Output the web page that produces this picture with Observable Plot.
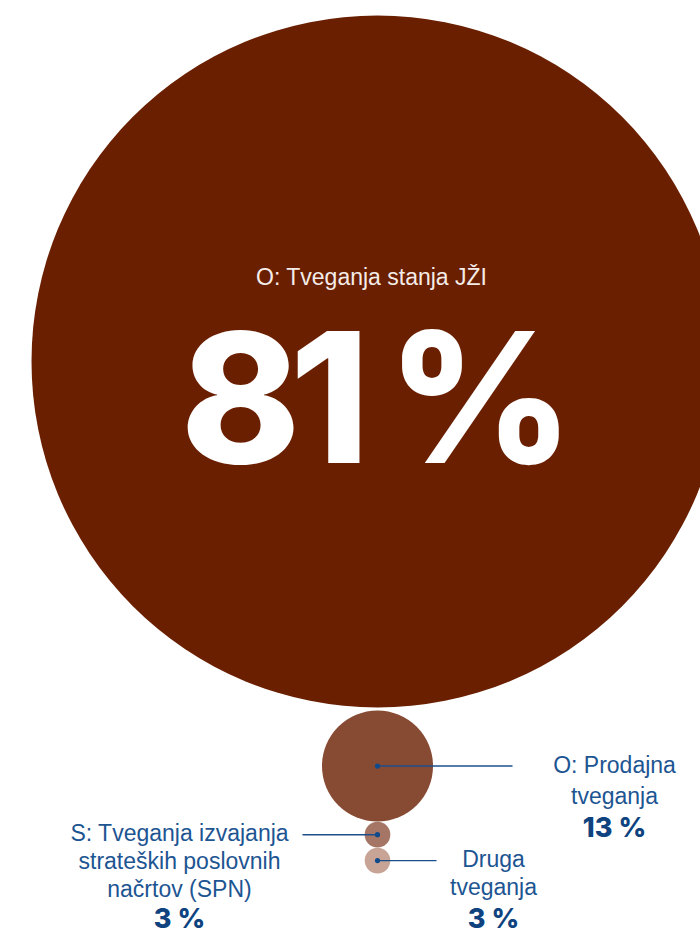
<!DOCTYPE html>
<html><head><meta charset="utf-8">
<script src="https://cdn.jsdelivr.net/npm/d3@7"></script>
<script src="https://cdn.jsdelivr.net/npm/@observablehq/plot@0.6"></script>
<style>html,body{margin:0;padding:0;background:#fff;overflow:hidden}</style>
</head><body><div id="chart"></div>
<script>
// ---- data ----
const categories = ["O: Tveganja stanja JŽI", "O: Prodajna tveganja", "S: Tveganja izvajanja strateških poslovnih načrtov (SPN)", "Druga tveganja"];
const labelLines = [["O: Tveganja stanja JŽI"], ["O: Prodajna", "tveganja"], ["S: Tveganja izvajanja", "strateških poslovnih", "načrtov (SPN)"], ["Druga", "tveganja"]];
const shares = [81, 13, 3, 3];
const shareLabels = ["81 %", "13 %", "3 %", "3 %"];

// ---- styles / layout ----
const fills = ["#6a1f00", "#874b34", "#a57665", "#c8a496"];
const W = 700, H = 935;
const centerX = 377, topY = 15, rMax = 346;
const gaps = [0, 3, 0.3, 0.3];
const layout = [
  {inside: true, textX: 371, titleDy: -77, pctDy: 101},
  {lineEnd: 512, textX: 614, step: 31, pctGap: 33.5},
  {lineEnd: 302, textX: 179, step: 28, pctGap: 31},
  {lineEnd: 436, textX: 493, step: 27.5, pctGap: 33.5}
];
const rDomain = [0, 81], rRange = [0, rMax];
const rScale = d3.scaleLinear(rDomain, rRange);

// stack circles vertically (tangent), derived from values
const rows = [];
categories.forEach((c, i) => {
  const r = rScale(shares[i]);
  const cy = i === 0 ? topY + r : rows[i - 1].cy + rows[i - 1].rad + gaps[i] + r;
  rows.push({category: c, share: shares[i], label: shareLabels[i], rad: r, cx: centerX, cy, fill: fills[i], ...layout[i]});
});

const leaders = rows.filter(d => !d.inside);
const textRows = [], pctRows = [];
leaders.forEach((d) => {
  const lines = labelLines[rows.indexOf(d)];
  lines.forEach((t, j) => textRows.push({text: t, x: d.textX, y: d.cy + 6.6 + j * d.step}));
  pctRows.push({text: d.label, x: d.textX, y: d.cy + 6.6 + (lines.length - 1) * d.step + d.pctGap});
});
const big = rows[0];
const insideTitle = [{text: labelLines[0][0], x: big.textX, y: big.cy + big.titleDy}];
const insidePct = [{text: big.label, x: big.textX, y: big.cy + big.pctDy}];

const chart = Plot.plot({
  width: W, height: H,
  margin: 0,
  style: {background: "#fff", overflow: "hidden"},
  x: {domain: [0, W], range: [0, W], axis: null},
  y: {domain: [0, H], range: [0, H], axis: null},
  r: {type: "linear", domain: rDomain, range: rRange},
  color: {type: "identity"},
  marks: [
    Plot.dot(rows, {x: "cx", y: "cy", r: "share", fill: "fill", stroke: null}),
    Plot.link(leaders, {x1: "cx", y1: "cy", x2: "lineEnd", y2: "cy", stroke: "#1b4f8c", strokeWidth: 1.4}),
    Plot.dot(leaders, {x: "cx", y: "cy", r: 2.6, fill: "#0f4a8a"}),
    Plot.text(textRows, {x: "x", y: "y", text: "text", lineAnchor: "bottom", textAnchor: "middle",
      fill: "#1d5592", fontFamily: "Liberation Sans, Arial, sans-serif", fontSize: 23}),
    Plot.text(pctRows, {x: "x", y: "y", text: "text", lineAnchor: "bottom", textAnchor: "middle",
      fill: "#0e4380", fontFamily: "Inter, sans-serif", fontWeight: 800, fontSize: 27}),
    Plot.text(insideTitle, {x: "x", y: "y", text: "text", lineAnchor: "bottom", textAnchor: "middle",
      fill: "#f4ece8", fontFamily: "Liberation Sans, Arial, sans-serif", fontSize: 23}),
    Plot.text(insidePct, {x: "x", y: "y", text: "text", lineAnchor: "bottom", textAnchor: "middle",
      fill: "#ffffff", fontFamily: "Inter, sans-serif", fontWeight: 800, fontSize: 181})
  ]
});
// tighten the big percentage the way the reference typeface sets it
const textGroups = chart.querySelectorAll('g[aria-label="text"]');
textGroups[textGroups.length - 1].setAttribute("letter-spacing", "-11");
document.getElementById("chart").appendChild(chart);
</script>
</body></html>
